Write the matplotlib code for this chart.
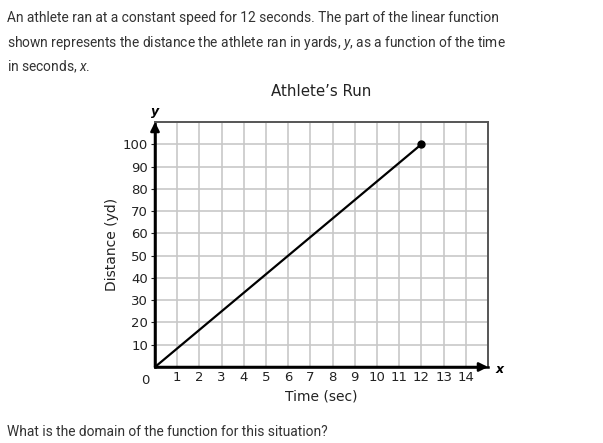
import matplotlib
matplotlib.use("Agg")
import matplotlib.pyplot as plt

# Data
x_start, x_end = 0, 12
y_start, y_end = 0, 100
x_vals = [x_start, x_end]
y_vals = [y_start, y_end]
x_tick_vals = list(range(1, 15))
y_tick_vals = list(range(10, 101, 10))
title = "Athlete\u2019s Run"
x_label = "Time (sec)"
y_label = "Distance (yd)"
intro_lines = [
    "An athlete ran at a constant speed for 12 seconds. The part of the linear function",
    "shown represents the distance the athlete ran in yards, $\\it{y}$, as a function of the time",
    "in seconds, $\\it{x}$.",
]
question = "What is the domain of the function for this situation?"

plt.rcParams["mathtext.fontset"] = "custom"
plt.rcParams["mathtext.it"] = "Roboto:italic"
plt.rcParams["mathtext.rm"] = "Roboto"

W, H = 603, 443
fig = plt.figure(figsize=(W / 100, H / 100), dpi=100)
fig.patch.set_facecolor("white")

left, right, top, bottom = 155, 488, 122, 367
ax = fig.add_axes([left / W, 1 - bottom / H, (right - left) / W, (bottom - top) / H])

ax.set_xlim(0, 15)
ax.set_ylim(0, 110)

# grid
for gx in range(1, 15):
    ax.axvline(gx, color="#c8c8c8", lw=1.2, zorder=1)
for gy in range(10, 110, 10):
    ax.axhline(gy, color="#c8c8c8", lw=1.2, zorder=1)

for s in ["top", "right"]:
    ax.spines[s].set_color("#555555")
    ax.spines[s].set_linewidth(1.4)
for s in ["left", "bottom"]:
    ax.spines[s].set_color("black")
    ax.spines[s].set_linewidth(1.8)

ax.plot(x_vals, y_vals, color="black", lw=1.6, zorder=3, solid_capstyle="round")
ax.plot([x_vals[-1]], [y_vals[-1]], "o", color="black", ms=5, zorder=4)

ax.set_xticks(x_tick_vals)
ax.set_xticklabels([str(v) for v in x_tick_vals])
ax.set_yticks(y_tick_vals)
ax.set_yticklabels([str(v) for v in y_tick_vals])
ax.tick_params(axis="x", length=0, pad=3, labelsize=9.5, colors="#222222")
ax.tick_params(axis="y", length=3, width=0.8, pad=2, labelsize=9.5, colors="#222222")
ax.text(-0.25, -3.2, "0", ha="right", va="top", fontsize=9.5, color="#222222")

# arrows
ax.annotate("", xy=(0, 110), xytext=(0, 0),
            arrowprops=dict(arrowstyle="-|>", color="black", lw=1.8, mutation_scale=13,
                            shrinkA=0, shrinkB=0), annotation_clip=False, zorder=5)
ax.annotate("", xy=(15, 0), xytext=(0, 0),
            arrowprops=dict(arrowstyle="-|>", color="black", lw=1.8, mutation_scale=13,
                            shrinkA=0, shrinkB=0), annotation_clip=False, zorder=5)
ax.text(0, 112, "y", ha="center", va="bottom", fontsize=9, fontweight="bold",
        style="italic")
ax.text(15.5, -1, "x", ha="center", va="center", fontsize=9, fontweight="bold",
        style="italic")

fig.text(321 / W, 1 - 91 / H, title, ha="center", va="center", fontsize=10.8, color="#222222")
fig.text(321 / W, 1 - 396 / H, x_label, ha="center", va="center", fontsize=10, color="#222222")
fig.text(112 / W, 1 - 244 / H, y_label, ha="center", va="center", rotation=90,
         fontsize=10, color="#222222")

ys = [18, 43, 67]
for line, yy in zip(intro_lines, ys):
    fig.text(7 / W, 1 - yy / H, line, ha="left", va="center", fontsize=9.95,
             family="Roboto", color="#333333")
fig.text(7 / W, 1 - 432 / H, question, ha="left", va="center", fontsize=9.95,
         family="Roboto", color="#333333")

fig.savefig("out.png", dpi=100)
